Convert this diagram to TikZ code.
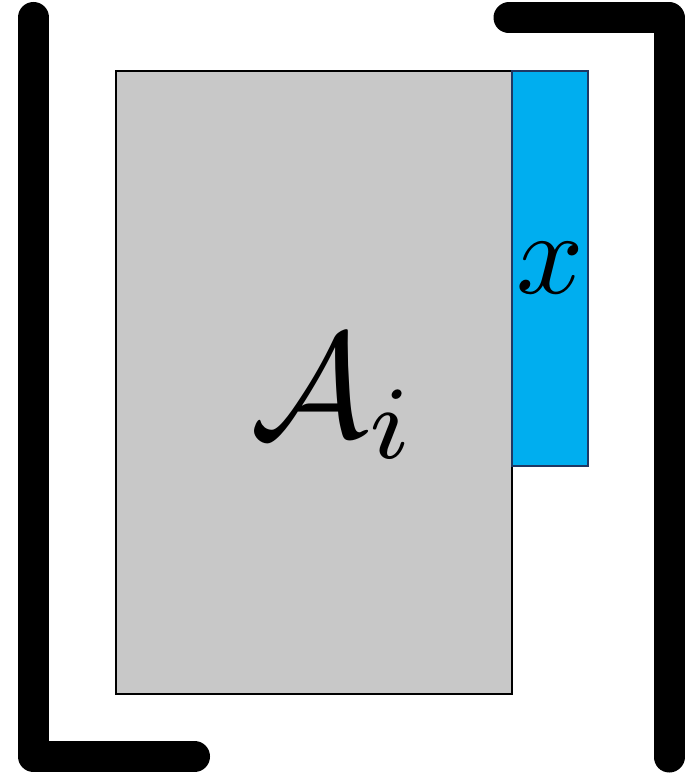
\documentclass[tikz,border=0pt]{standalone}
\begin{document}
\begin{tikzpicture}[x=1pt,y=-1pt,
  bracket/.style={line width=31pt,line cap=round,line join=round,black},
  graybox/.style={draw=black,line width=2pt,fill=graybg,inner sep=0pt,outer sep=0pt},
  bluebox/.style={draw=navyedge,line width=2pt,fill=bluefill,inner sep=0pt,outer sep=0pt}]
\definecolor{graybg}{HTML}{C8C8C8}
\definecolor{bluefill}{HTML}{00AEEF}
\definecolor{navyedge}{HTML}{1F3864}
\useasboundingbox (0,0) rectangle (692,775);
\coordinate (l1) at (33.5,17.5);
\coordinate (l2) at (33.5,756.5);
\coordinate (l3) at (194.5,756.5);
\coordinate (r1) at (509,18);
\coordinate (r2) at (669,18);
\coordinate (r3) at (669,757);
\draw[bracket] (l1) -- (l2) -- (l3);
\draw[bracket] (r1) -- (r2) -- (r3);
\node[graybox,minimum width=396pt,minimum height=623pt] (G) at (314,382.5) {};
\node[bluebox,minimum width=76pt,minimum height=395pt] (B) at (550,268.5) {};
\node[inner sep=0pt,scale=14.8] (Al) at (334,397) {$\mathcal{A}_i$};
\node[inner sep=0pt,scale=11.8] (xl) at (550,268.5) {$x$};
\end{tikzpicture}
\end{document}
